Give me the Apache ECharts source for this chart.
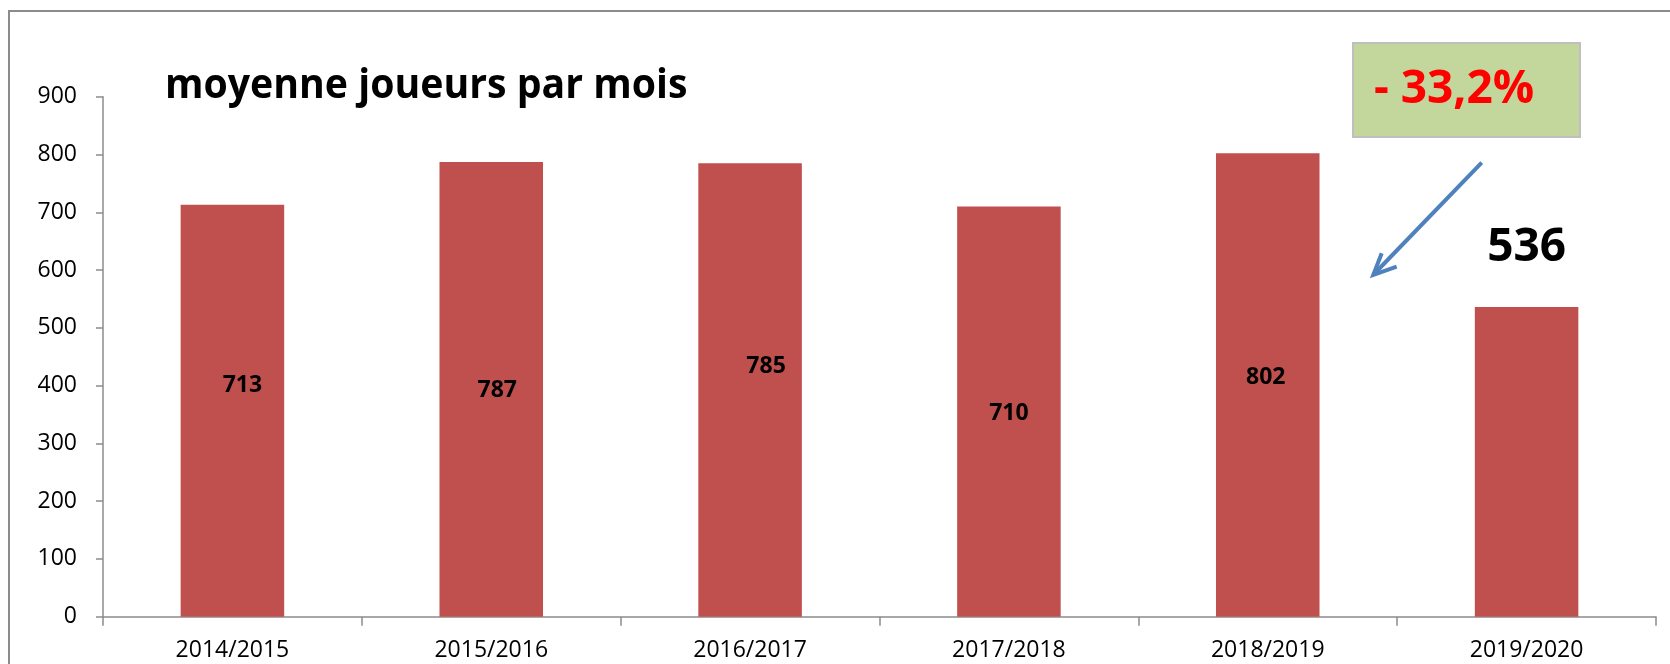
<!DOCTYPE html>
<html>
<head>
<meta charset="utf-8">
<script src="https://cdn.jsdelivr.net/npm/echarts@6/dist/echarts.min.js"></script>
<style>
html,body{margin:0;padding:0;background:#fff;}
#c{width:1670px;height:664px;}
</style>
</head>
<body>
<div id="c"></div>
<script>
const categories = ['2014/2015','2015/2016','2016/2017','2017/2018','2018/2019','2019/2020'];
const values = [713, 787, 785, 710, 802, 536];
const yTicks = [0,100,200,300,400,500,600,700,800,900];
const titleText = 'moyenne joueurs par mois';
const changeText = '- 33,2%';

// label placement (pixel shifts from bar centre), layout only
const labelShift = [[10,-25],[6,1],[16,-23],[0,2],[-2,-8]];

const FONT = '"Open Sans", sans-serif';
const chart = echarts.init(document.getElementById('c'));

const barData = values.map((v, i) => {
  if (i < labelShift.length) {
    return { value: v, label: { show: true, position: 'inside', offset: labelShift[i],
      fontSize: 23, fontWeight: 'bold', color: '#000', fontFamily: FONT } };
  }
  return { value: v, label: { show: true, position: 'top', distance: 36,
    fontSize: 46, fontWeight: 'bold', color: '#000', fontFamily: FONT } };
});

chart.setOption({
  animation: false,
  backgroundColor: '#fff',
  grid: { left: 103, right: 14, top: 96.7, bottom: 47.3 },
  xAxis: {
    type: 'category',
    data: categories,
    axisLine: { lineStyle: { color: '#8c8c8c', width: 1.5 } },
    axisTick: { show: true, length: 9, alignWithLabel: false, lineStyle: { color: '#8c8c8c', width: 1.5 } },
    axisLabel: { color: '#000', fontSize: 23, fontFamily: FONT, margin: 22 }
  },
  yAxis: {
    type: 'value',
    min: yTicks[0],
    max: yTicks[yTicks.length - 1],
    interval: 100,
    splitLine: { show: false },
    axisLine: { show: true, lineStyle: { color: '#8c8c8c', width: 1.5 } },
    axisTick: { show: true, length: 7, lineStyle: { color: '#8c8c8c', width: 1.5 } },
    axisLabel: { color: '#000', fontSize: 23, fontFamily: FONT, margin: 26 }
  },
  series: [{
    type: 'bar',
    data: barData,
    barWidth: '40%',
    itemStyle: { color: '#C0504D' }
  }],
  graphic: [
    { type: 'rect', shape: { x: 9, y: 11, width: 1700, height: 700 },
      style: { fill: 'none', stroke: '#8c8c8c', lineWidth: 2 }, z: 0, silent: true },
    { type: 'text', x: 165, y: 86, scaleX: 0.934, style: { text: titleText, font: 'bold 42px ' + FONT,
      fill: '#000', textAlign: 'left', textVerticalAlign: 'middle' } },
    { type: 'rect', shape: { x: 1353, y: 43, width: 227, height: 94 },
      style: { fill: '#C3D69B', stroke: '#bfbfbf', lineWidth: 2 } },
    { type: 'text', x: 1374, y: 90, style: { text: changeText, font: 'bold 46px ' + FONT,
      fill: '#FF0000', textAlign: 'left', textVerticalAlign: 'middle' } },
    { type: 'line', shape: { x1: 1481.7, y1: 162.7, x2: 1375, y2: 273 },
      style: { stroke: '#4F81BD', lineWidth: 4 } },
    { type: 'polyline', shape: { points: [[1381.7, 253.3], [1373.3, 275], [1396.7, 266.7]] },
      style: { stroke: '#4F81BD', lineWidth: 4, fill: 'none', lineJoin: 'miter' } }
  ]
});
</script>
</body>
</html>
